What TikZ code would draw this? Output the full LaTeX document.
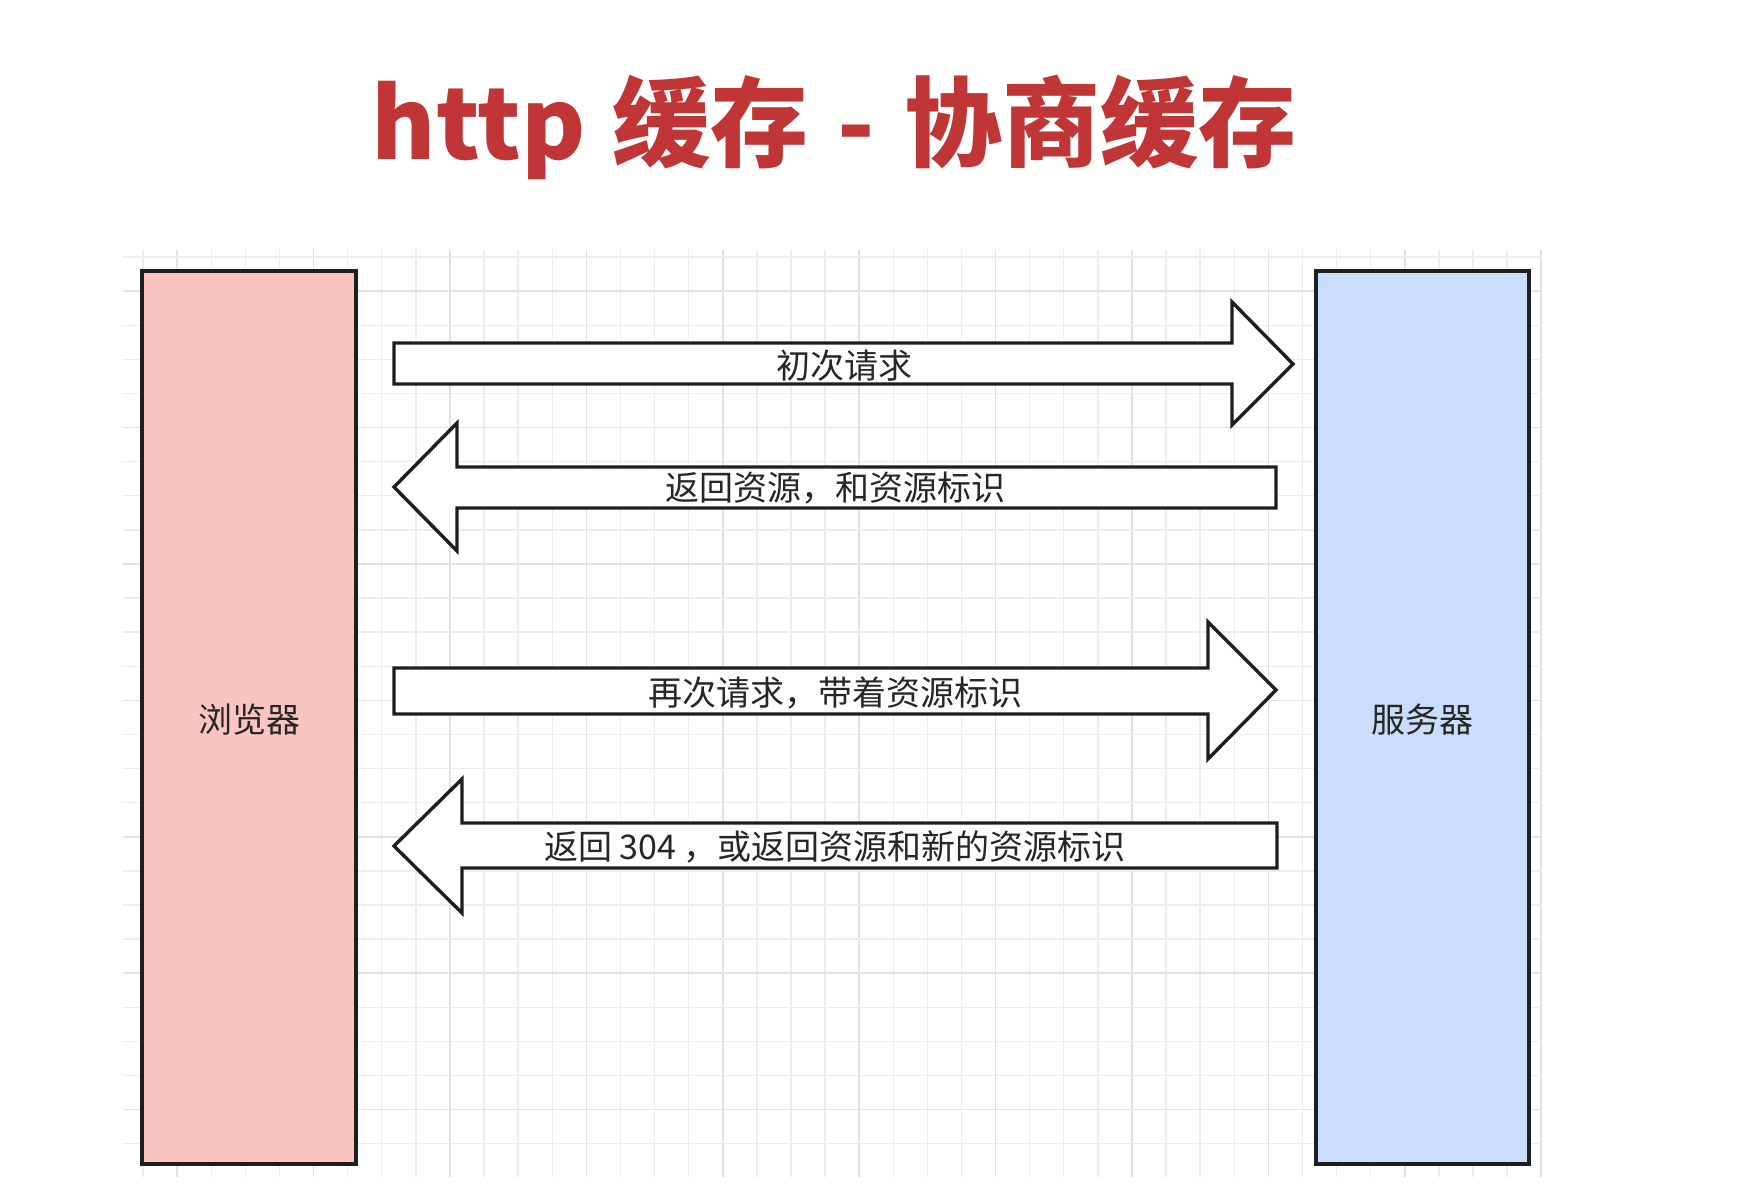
\documentclass[tikz,border=0pt]{standalone}
\usepackage{fontspec}
\setmainfont{Noto Sans CJK SC}
\definecolor{gridminor}{HTML}{EDEDED}
\definecolor{gridmajor}{HTML}{E2E2E2}
\definecolor{pinkfill}{HTML}{FAC5C1}
\definecolor{bluefill}{HTML}{CADEFC}
\definecolor{titlered}{HTML}{C03535}
\definecolor{edge}{HTML}{1E1E1E}
\begin{document}
\begin{tikzpicture}[x=1pt,y=-1pt,
  party/.style={draw=edge,line width=3.4pt},
  blockarrow/.style={draw=edge,fill=white,line width=3.4pt,line join=miter},
  lbl/.style={font=\fontsize{34}{38}\selectfont,text=black!85,inner sep=0pt,anchor=center},
  ttl/.style={font=\fontsize{98}{106}\selectfont\bfseries,text=titlered,inner sep=0pt,anchor=center}]
\useasboundingbox[fill=white] (0,0) rectangle (1752,1184);
% grid
\foreach \k in {0,...,41}{
  \pgfmathsetmacro{\gx}{143+34.1*\k}
  \pgfmathtruncatemacro{\maj}{mod(\k+3,4)==0}
  \ifnum\maj=1
    \draw[gridmajor,line width=1.6pt] (\gx,250) -- (\gx,1177);
  \else
    \draw[gridminor,line width=1.4pt] (\gx,250) -- (\gx,1177);
  \fi
}
\foreach \k in {0,...,26}{
  \pgfmathsetmacro{\gy}{257+34.1*\k}
  \pgfmathtruncatemacro{\maj}{mod(\k+3,4)==0}
  \ifnum\maj=1
    \draw[gridmajor,line width=1.6pt] (123,\gy) -- (1542,\gy);
  \else
    \draw[gridminor,line width=1.4pt] (123,\gy) -- (1542,\gy);
  \fi
}
% title
\node[ttl] (title) at (834,127) {http\hspace{0.27em}缓存\hspace{0.3em}-\hspace{0.3em}协商缓存};
% parties
\draw[party,fill=pinkfill] (142,271) rectangle (356,1164);
\node[lbl] (browser) at (249,720) {浏览器};
\draw[party,fill=bluefill] (1316,271) rectangle (1529,1164);
\node[lbl] (server) at (1422,720) {服务器};
% arrow 1
\draw[blockarrow] (394,343) -- (1232,343) -- (1232,302) -- (1293,364) -- (1232,425) -- (1232,384) -- (394,384) -- cycle;
\node[lbl] (a1) at (844,366) {初次请求};
% arrow 2
\draw[blockarrow] (1276,467) -- (457,467) -- (457,423) -- (394,487) -- (457,551) -- (457,508) -- (1276,508) -- cycle;
\node[lbl] (a2) at (835,488) {返回资源，和资源标识};
% arrow 3
\draw[blockarrow] (394,668) -- (1208,668) -- (1208,622) -- (1276,690) -- (1208,759) -- (1208,714) -- (394,714) -- cycle;
\node[lbl] (a3) at (835,693) {再次请求，带着资源标识};
% arrow 4
\draw[blockarrow] (1277,823) -- (462,823) -- (462,779) -- (394,846) -- (462,913) -- (462,868) -- (1277,868) -- cycle;
\node[lbl] (a4) at (835,847) {返回 304 ，或返回资源和新的资源标识};
\end{tikzpicture}
\end{document}
